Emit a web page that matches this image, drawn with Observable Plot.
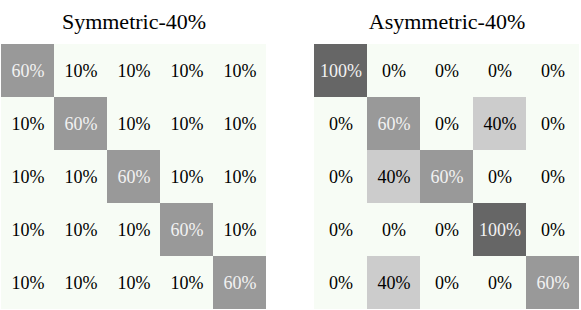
<!DOCTYPE html>
<html>
<head>
<meta charset="utf-8">
<script src="https://cdn.jsdelivr.net/npm/d3@7"></script>
<script src="https://cdn.jsdelivr.net/npm/@observablehq/plot@0.6"></script>
<style>
  html, body { margin: 0; padding: 0; background: #ffffff; }
  #chart svg { display: block; }
  #chart svg, #chart svg text { font-family: "Liberation Serif", "DejaVu Serif", serif !important; }
</style>
</head>
<body>
<div id="chart"></div>
<script>
const panels = ["Symmetric-40%", "Asymmetric-40%"];
const classes = ["0", "1", "2", "3", "4"];
const symmetric = [
  [60, 10, 10, 10, 10],
  [10, 60, 10, 10, 10],
  [10, 10, 60, 10, 10],
  [10, 10, 10, 60, 10],
  [10, 10, 10, 10, 60]
];
const asymmetric = [
  [100, 0, 0, 0, 0],
  [0, 60, 0, 40, 0],
  [0, 40, 60, 0, 0],
  [0, 0, 0, 100, 0],
  [0, 40, 0, 0, 60]
];
const levels = [0, 10, 40, 60, 100];
const levelColors = ["#f7fcf5", "#f7fcf5", "#cccccc", "#999999", "#666666"];

const matrices = [symmetric, asymmetric];
const data = [];
panels.forEach((p, k) => {
  matrices[k].forEach((row, i) => {
    row.forEach((v, j) => {
      data.push({panel: p, row: classes[i], col: classes[j], v});
    });
  });
});

const chart = Plot.plot({
  width: 581,
  height: 310,
  marginTop: 43,
  marginBottom: 0,
  marginLeft: 0,
  marginRight: 1,
  style: {fontFamily: "Liberation Serif, serif", background: "#ffffff"},
  fx: {domain: panels, paddingInner: 0.147, paddingOuter: 0},
  x: {domain: classes, padding: 0, axis: null},
  y: {domain: classes, padding: 0, axis: null},
  color: {type: "ordinal", domain: levels, range: levelColors},
  marks: [
    Plot.axisFx({anchor: "top", label: null, tickSize: 0, tickPadding: 15, fontSize: 22, fill: "#000"}),
    Plot.cell(data, {x: "col", y: "row", fx: "panel", fill: "v"}),
    Plot.text(data, {
      x: "col", y: "row", fx: "panel",
      text: d => d.v + "%",
      fill: d => d.v >= 60 ? "#f2f2f2" : "#000000",
      fontSize: 18
    })
  ]
});
document.getElementById("chart").appendChild(chart);
</script>
</body>
</html>
